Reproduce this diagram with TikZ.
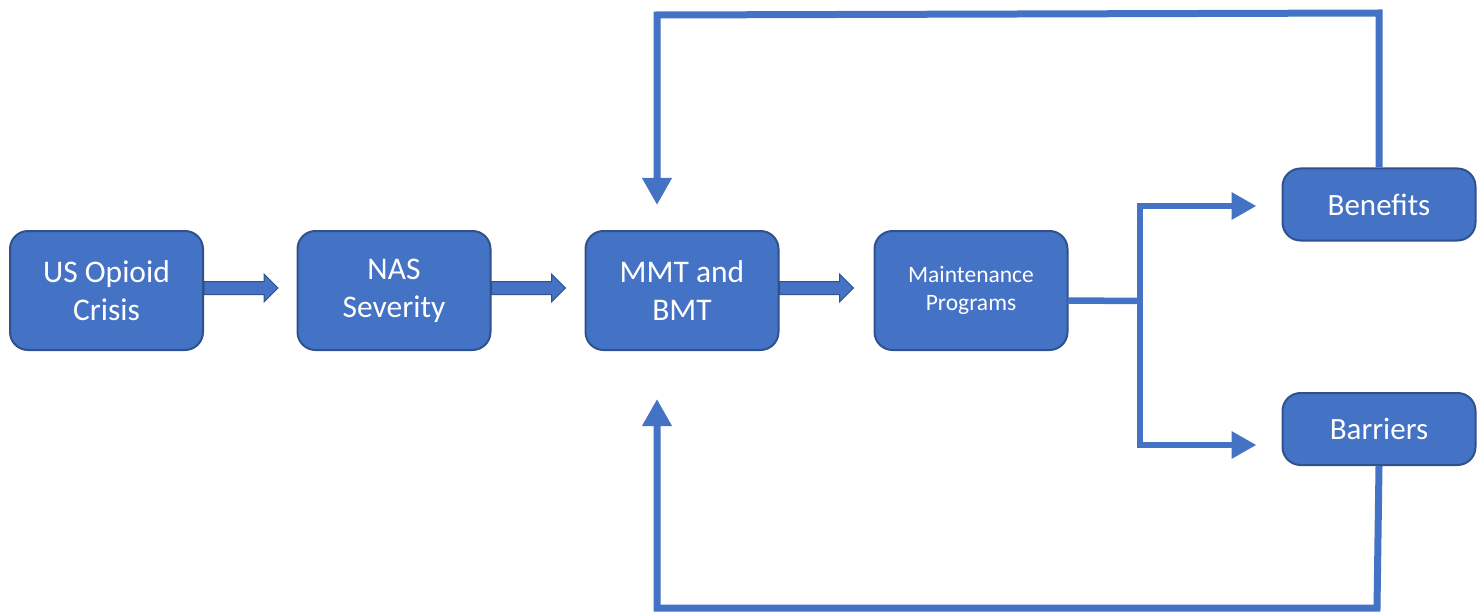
\documentclass[tikz,border=0pt]{standalone}
\usepackage{fontspec}
\setmainfont{Carlito}
\usetikzlibrary{calc,arrows.meta}
\definecolor{boxfill}{HTML}{4472C4}
\definecolor{boxline}{HTML}{2F528F}
\tikzset{
  box/.style={draw=boxline, fill=boxfill, line width=2pt, rounded corners=18pt,
    text=white, align=center, inner sep=0pt, minimum width=193pt, minimum height=119pt,
    font=\fontsize{31.5}{38}\selectfont},
  smallbox/.style={box, minimum height=72pt, font=\fontsize{31}{36}\selectfont},
  conn/.style={draw=boxfill, line width=6.5pt, line join=miter},
  fb/.style={conn, line width=7pt},
  tip/.tip={Triangle[length=25pt,width=26pt]},
  ftip/.tip={Triangle[length=27pt,width=28pt]},
  arrowbody/.style={draw=boxline, fill=boxfill, line width=1pt, line join=miter},
}
\newcommand\blockarr[1]{%
  \path (#1.east) ++(0,-2.5) coordinate (ba-s);
  \draw[arrowbody] (ba-s) ++(0,-6.5) -- ++(60,0) -- ++(0,-7.5) -- ++(14,14) -- ++(-14,14)
    -- ++(0,-7.5) -- ++(-60,0) -- cycle;}
\begin{document}
\begin{tikzpicture}[x=1pt,y=-1pt]
\useasboundingbox (0,0) rectangle (1481,615);
\node[box] (us) at (106.5,290.5) {US Opioid\\Crisis};
\node[box] (nas) at (394,290.5) {NAS\\Severity};
\node[box] (mmt) at (682,290.5) {MMT and\\BMT};
\node[box, font=\fontsize{23.5}{28}\selectfont] (mp) at (971,290.5) {Maintenance\\Programs};
\node[smallbox] (ben) at (1379,204.5) {Benefits};
\node[smallbox] (bar) at (1379,429) {Barriers};
\blockarr{us}
\blockarr{nas}
\blockarr{mmt}
\draw[conn] ($(mp.east)+(-1,10)$) -- (1140,301);
\draw[conn,tip-tip] ($(ben.west)+(-25,1.5)$) -- (1140,206) -- (1140,445) -- ($(bar.west)+(-25,16)$);
\draw[fb,-ftip] (ben.north) -- (1379,13) -- (657,15) -- ($(mmt.north)+(-25,-25)$);
\draw[fb,-ftip] (bar.south) -- (1377,608) -- (657,608) -- ($(mmt.south)+(-25,48)$);
\end{tikzpicture}
\end{document}
